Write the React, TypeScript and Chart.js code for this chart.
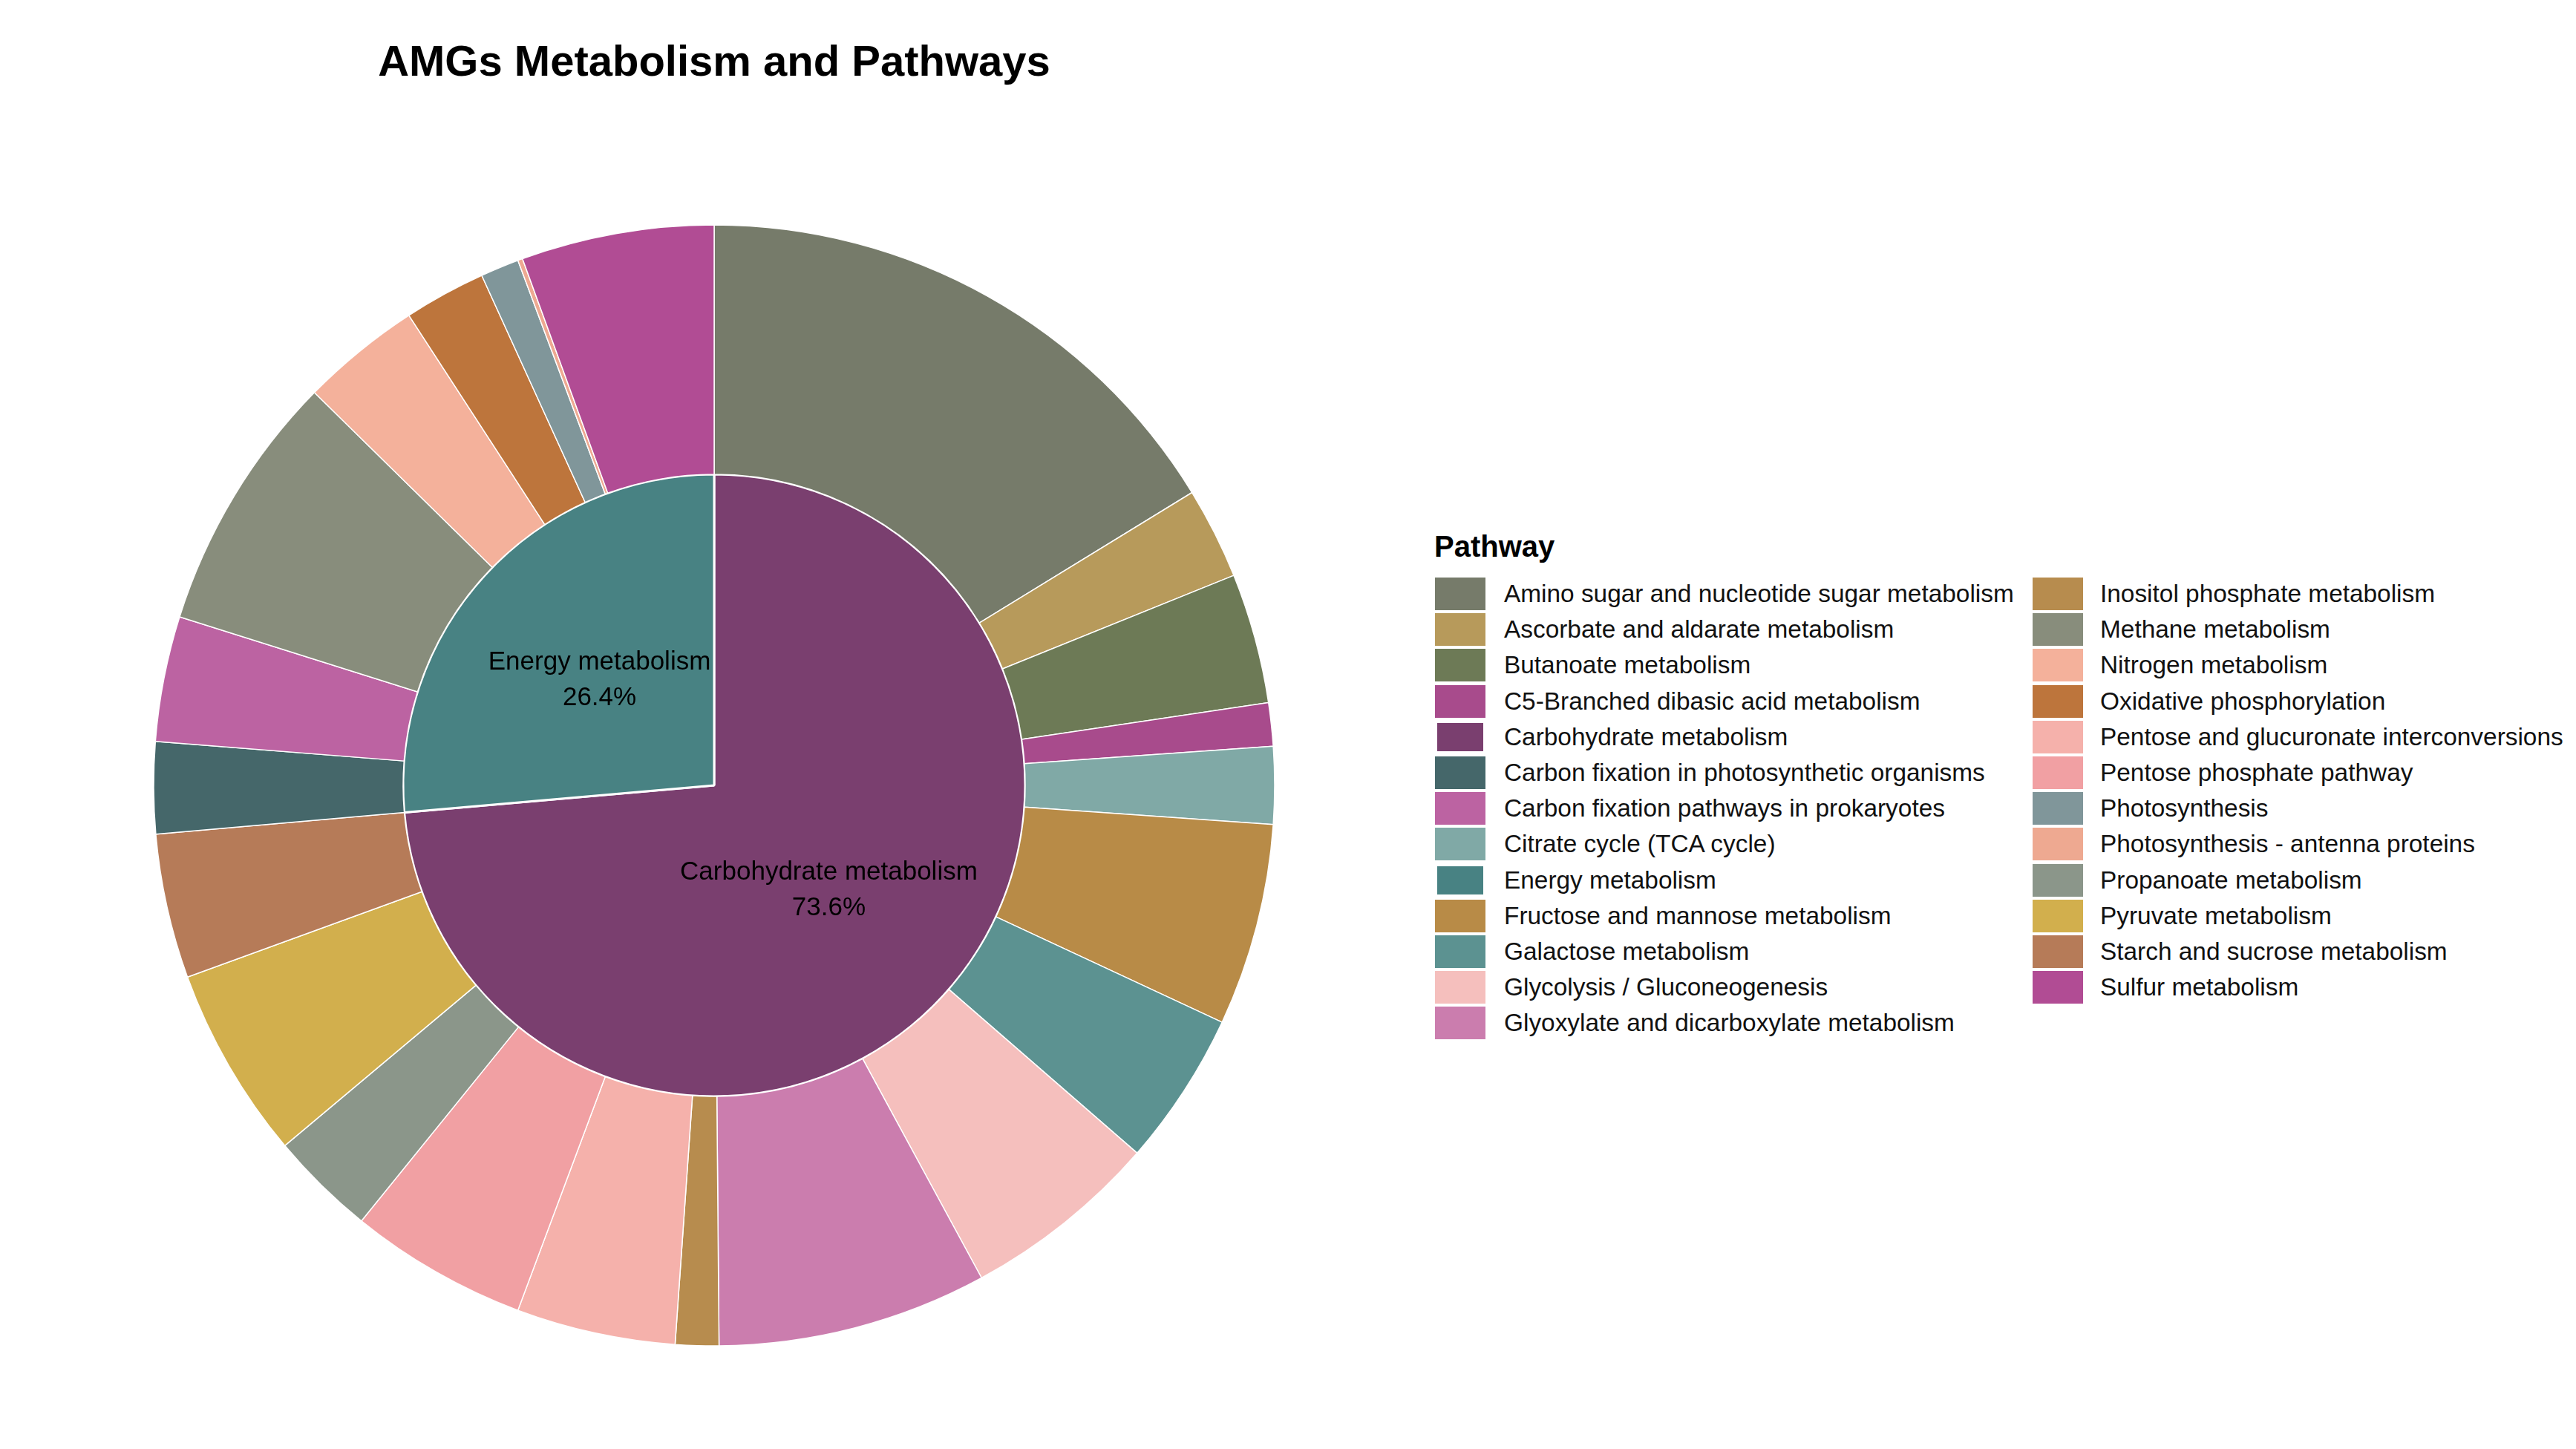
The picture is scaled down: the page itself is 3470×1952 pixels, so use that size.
import React, { useEffect, useRef } from "react";
import { Chart, registerables } from "chart.js";

Chart.register(...registerables);

const TITLE = "AMGs Metabolism and Pathways";
const LEGEND_TITLE = "Pathway";

const categories = ["Carbohydrate metabolism", "Energy metabolism"];
const categoryColors = ["#7A3F6F", "#488283"];

const pathways = [
  "Amino sugar and nucleotide sugar metabolism",
  "Ascorbate and aldarate metabolism",
  "Butanoate metabolism",
  "C5-Branched dibasic acid metabolism",
  "Citrate cycle (TCA cycle)",
  "Fructose and mannose metabolism",
  "Galactose metabolism",
  "Glycolysis / Gluconeogenesis",
  "Glyoxylate and dicarboxylate metabolism",
  "Inositol phosphate metabolism",
  "Pentose and glucuronate interconversions",
  "Pentose phosphate pathway",
  "Propanoate metabolism",
  "Pyruvate metabolism",
  "Starch and sucrose metabolism",
  "Carbon fixation in photosynthetic organisms",
  "Carbon fixation pathways in prokaryotes",
  "Methane metabolism",
  "Nitrogen metabolism",
  "Oxidative phosphorylation",
  "Photosynthesis",
  "Photosynthesis - antenna proteins",
  "Sulfur metabolism",
];

const pathwayCategory = [0, 0, 0, 0, 0, 0, 0, 0, 0, 0, 0, 0, 0, 0, 0, 1, 1, 1, 1, 1, 1, 1, 1];

const pathwayCounts = [117, 19, 27, 9, 16, 42, 32, 41, 56, 9, 33, 37, 22, 40, 30, 19, 26, 54, 25, 17, 8, 1, 40];

const pathwayColors = [
  "#767B6A",
  "#B79A5B",
  "#6D7A56",
  "#A84B8C",
  "#80A9A6",
  "#B88B47",
  "#5C9291",
  "#F5BFBD",
  "#CB7DAE",
  "#B78C4E",
  "#F5B1AB",
  "#F1A0A3",
  "#8B968A",
  "#D2AF4D",
  "#B67B58",
  "#45676A",
  "#BC63A2",
  "#888D7C",
  "#F4B19B",
  "#BD753C",
  "#80969A",
  "#EEA991",
  "#B14C94",
];

const categoryCounts = categories.map((_, ci) =>
  pathwayCounts.reduce((s, v, i) => (pathwayCategory[i] === ci ? s + v : s), 0)
);

const FONT = "'Liberation Sans', Arial, Helvetica, sans-serif";

const labelPlugin = {
  id: "innerLabels",
  afterDatasetsDraw(chart: any) {
    const meta = chart.getDatasetMeta(1);
    const ctx = chart.ctx;
    const total = categoryCounts.reduce((a, b) => a + b, 0);
    ctx.save();
    ctx.fillStyle = "#000000";
    ctx.font = `35px ${FONT}`;
    ctx.textAlign = "center";
    ctx.textBaseline = "middle";
    meta.data.forEach((arc: any, i: number) => {
      const p = arc.getProps(["x", "y", "startAngle", "endAngle", "outerRadius"], true);
      const mid = (p.startAngle + p.endAngle) / 2;
      const r = p.outerRadius / 2;
      const cx = p.x + Math.cos(mid) * r;
      const cy = p.y + Math.sin(mid) * r;
      const pct = ((categoryCounts[i] / total) * 100).toFixed(1) + "%";
      ctx.fillText(categories[i], cx, cy - 24);
      ctx.fillText(pct, cx, cy + 24);
    });
    ctx.restore();
  },
};

type LegendEntry = { name: string; color: string; isCategory: boolean };

const legendEntries: LegendEntry[] = [
  ...pathways.map((n, i) => ({ name: n, color: pathwayColors[i], isCategory: false })),
  ...categories.map((n, i) => ({ name: n, color: categoryColors[i], isCategory: true })),
].sort((a, b) => (a.name < b.name ? -1 : a.name > b.name ? 1 : 0));

const ROWS_PER_COL = Math.ceil(legendEntries.length / 2);

export default function App() {
  const canvasRef = useRef<HTMLCanvasElement | null>(null);

  useEffect(() => {
    if (!canvasRef.current) return;
    const chart = new Chart(canvasRef.current, {
      type: "doughnut",
      data: {
        labels: pathways,
        datasets: [
          {
            label: "Pathway",
            data: pathwayCounts,
            backgroundColor: pathwayColors,
            borderColor: "#ffffff",
            borderWidth: 1.5,
            weight: 336,
            hoverOffset: 0,
          } as any,
          {
            label: "Category",
            data: categoryCounts,
            backgroundColor: categoryColors,
            borderColor: "#ffffff",
            borderWidth: 3,
            weight: 419,
            hoverOffset: 0,
          } as any,
        ],
      },
      options: {
        responsive: false,
        animation: false,
        cutout: 0,
        radius: 755,
        layout: { padding: 0 },
        events: [],
        plugins: {
          legend: { display: false },
          tooltip: { enabled: false },
          title: { display: false },
        },
      } as any,
      plugins: [labelPlugin],
    });
    return () => chart.destroy();
  }, []);

  const colX = [1932, 2737];
  const textX = [2026, 2829];
  const rowY0 = 800;
  const rowStep = 48.2;

  return (
    <div style={{ position: "absolute", left: 0, top: 0, width: 3470, height: 1952, background: "#ffffff", fontFamily: FONT }}>
      <div
        style={{
          position: "absolute",
          left: 0,
          width: 1924,
          top: 47,
          height: 70,
          lineHeight: "70px",
          textAlign: "center",
          fontWeight: "bold",
          fontSize: 58,
          color: "#000",
          whiteSpace: "nowrap",
        }}
      >
        {TITLE}
      </div>
      <canvas
        ref={canvasRef}
        width={1520}
        height={1520}
        style={{ position: "absolute", left: 202, top: 298, width: 1520, height: 1520 }}
      />
      <div
        style={{
          position: "absolute",
          left: 1932,
          top: 736 - 25,
          height: 50,
          lineHeight: "50px",
          fontWeight: "bold",
          fontSize: 40,
          color: "#000",
          whiteSpace: "nowrap",
        }}
      >
        {LEGEND_TITLE}
      </div>
      {legendEntries.map((e, i) => {
        const col = Math.floor(i / ROWS_PER_COL);
        const row = i % ROWS_PER_COL;
        const cy = rowY0 + row * rowStep;
        return (
          <React.Fragment key={e.name}>
            <div
              style={{
                position: "absolute",
                left: colX[col],
                top: cy - 23,
                width: 70,
                height: 46,
                boxSizing: "border-box",
                background: e.color,
                border: e.isCategory ? "4px solid #ffffff" : "1px solid #ffffff",
              }}
            />
            <div
              style={{
                position: "absolute",
                left: textX[col],
                top: cy - 24,
                height: 48,
                lineHeight: "48px",
                fontSize: 33.4,
                color: "#111111",
                whiteSpace: "nowrap",
              }}
            >
              {e.name}
            </div>
          </React.Fragment>
        );
      })}
    </div>
  );
}
